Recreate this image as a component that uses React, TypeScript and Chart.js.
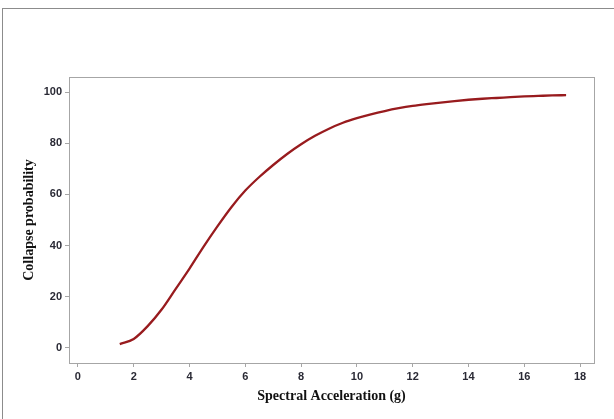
import React, { useEffect, useRef } from "react";
import { Chart, registerables } from "chart.js";

Chart.register(...registerables);

const accel: number[] = [1.5, 2, 2.5, 3, 3.5, 4, 4.5, 5, 5.5, 6, 6.5, 7, 7.5, 8, 8.5, 9, 9.5, 10, 10.5, 11, 11.5, 12, 12.5, 13, 13.5, 14, 14.5, 15, 15.5, 16, 16.5, 17, 17.5];
const collapseProb: number[] = [1.5, 3.5, 8.5, 15, 23, 31, 39.5, 47.5, 55, 61.5, 66.8, 71.5, 75.8, 79.6, 82.9, 85.7, 88, 89.8, 91.3, 92.6, 93.7, 94.6, 95.3, 95.9, 96.5, 97, 97.4, 97.7, 98, 98.3, 98.5, 98.7, 98.8];
const xTitle = "Spectral Acceleration (g)";
const yTitle = "Collapse probability";

const framePlugin = {
  id: "frames",
  beforeDraw(chart: any) {
    const ctx = chart.ctx;
    ctx.save();
    ctx.strokeStyle = "#8c8c8c";
    ctx.lineWidth = 1;
    ctx.strokeRect(2.5, 8.5, 800, 800);
    ctx.restore();
  },
  afterDraw(chart: any) {
    const { left, top, right, bottom } = chart.chartArea;
    const ctx = chart.ctx;
    ctx.save();
    ctx.strokeStyle = "#a6a6a6";
    ctx.lineWidth = 1;
    ctx.strokeRect(Math.round(left) + 0.5, Math.round(top) + 0.5, Math.round(right - left), Math.round(bottom - top));
    ctx.restore();
  },
};

export default function App() {
  const ref = useRef<HTMLCanvasElement | null>(null);
  useEffect(() => {
    if (!ref.current) return;
    const chart = new Chart(ref.current, {
      type: "line",
      data: {
        datasets: [
          {
            data: accel.map((x, i) => ({ x, y: collapseProb[i] })),
            borderColor: "#981b1e",
            borderWidth: 2.3,
            pointRadius: 0,
            cubicInterpolationMode: "monotone",
            fill: false,
          },
        ],
      },
      options: {
        responsive: false,
        animation: false,
        layout: { padding: { left: 21, top: 77, right: 20, bottom: 14 } },
        plugins: { legend: { display: false }, tooltip: { enabled: false } },
        scales: {
          x: {
            type: "linear",
            min: -0.32,
            max: 18.5,
            afterFit: (s: any) => { s.height = 42; },
            ticks: { stepSize: 2, includeBounds: false, color: "#2a2a35", font: { family: "Liberation Sans", size: 11, weight: "bold" }, padding: 3, maxRotation: 0 },
            grid: { display: true, drawOnChartArea: false, drawTicks: true, tickLength: 4, color: "#a6a6a6" },
            border: { display: false },
            title: { display: true, text: xTitle, color: "#111", font: { family: "Liberation Serif", size: 14, weight: "bold" }, padding: { top: 0, bottom: 0 } },
          },
          y: {
            type: "linear",
            min: -5.9,
            max: 105.9,
            afterFit: (s: any) => { s.width = 48; },
            ticks: { stepSize: 20, includeBounds: false, color: "#2a2a35", font: { family: "Liberation Sans", size: 11, weight: "bold" }, padding: 3 },
            grid: { display: true, drawOnChartArea: false, drawTicks: true, tickLength: 4, color: "#a6a6a6" },
            border: { display: false },
            title: { display: true, text: yTitle, color: "#111", font: { family: "Liberation Serif", size: 14, weight: "bold" }, padding: { top: 0, bottom: 0 } },
          },
        },
      },
      plugins: [framePlugin],
    });
    return () => chart.destroy();
  }, []);
  return (
    <canvas
      ref={ref}
      width={614}
      height={419}
      style={{ position: "fixed", left: 0, top: 0, width: 614, height: 419, background: "#fff" }}
    />
  );
}
